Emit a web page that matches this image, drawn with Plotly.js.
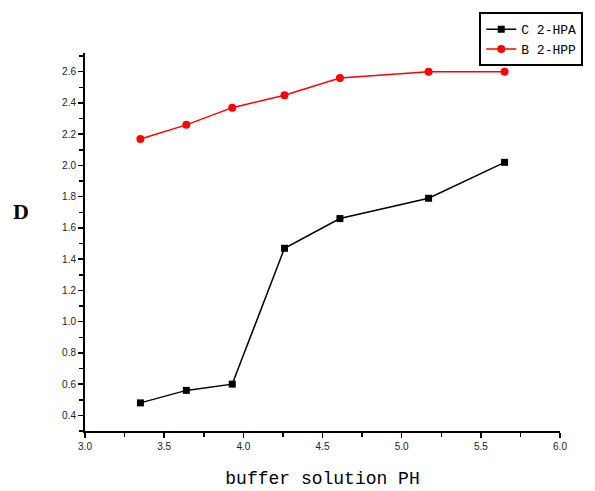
<!DOCTYPE html>
<html>
<head>
<meta charset="utf-8">
<script src="https://cdn.plot.ly/plotly-3.0.1.min.js"></script>
<style>
html,body{margin:0;padding:0;background:#fff;}
#chart{width:595px;height:491px;}
</style>
</head>
<body>
<div id="chart"></div>
<script>
const phHPA = [3.35, 3.64, 3.93, 4.26, 4.61, 5.17, 5.65];
const dHPA  = [0.48, 0.56, 0.60, 1.47, 1.66, 1.79, 2.02];
const phHPP = [3.35, 3.64, 3.93, 4.26, 4.61, 5.17, 5.65];
const dHPP  = [2.17, 2.26, 2.37, 2.45, 2.56, 2.60, 2.60];
const nameHPA = "C 2-HPA";
const nameHPP = "B 2-HPP";
const xTitle = "buffer solution PH";
const yTitle = "D";

const traces = [
  {x: phHPA, y: dHPA, name: nameHPA, type: "scatter", mode: "lines+markers",
   line: {color: "#000000", width: 1.5},
   marker: {symbol: "square", size: 7, color: "#000000"}},
  {x: phHPP, y: dHPP, name: nameHPP, type: "scatter", mode: "lines+markers",
   line: {color: "#ff0000", width: 1.5},
   marker: {symbol: "circle", size: 8, color: "#ff0000"}}
];

const axisFont = {family: "Arial, Liberation Sans, sans-serif", size: 10, color: "#222"};
const layout = {
  width: 595, height: 491,
  margin: {l: 85, r: 33, t: 53, b: 60},
  paper_bgcolor: "#ffffff", plot_bgcolor: "#ffffff",
  showlegend: true,
  legend: {x: 0.83, y: 1.108, xanchor: "left", yanchor: "top",
           bordercolor: "#000", borderwidth: 2, bgcolor: "#fff",
           font: {family: "Liberation Mono, monospace", size: 13, color: "#000"},
           tracegroupgap: 0, itemwidth: 30},
  xaxis: {range: [3.0, 6.0], dtick: 0.5, tick0: 3.0, tickformat: ".1f",
          showgrid: false, zeroline: false, showline: true, linecolor: "#000", linewidth: 2,
          ticks: "outside", ticklen: 5, tickwidth: 1.5, tickcolor: "#000",
          minor: {dtick: 0.25, ticks: "outside", ticklen: 4, tickwidth: 1.5, tickcolor: "#000", showgrid: false},
          tickfont: axisFont,
          title: {text: xTitle, standoff: 20,
                  font: {family: "Liberation Mono, monospace", size: 18, color: "#000"}}},
  yaxis: {range: [0.3, 2.72], dtick: 0.2, tick0: 0.4, tickformat: ".1f",
          showgrid: false, zeroline: false, showline: true, linecolor: "#000", linewidth: 2,
          ticks: "outside", ticklen: 5, tickwidth: 1.5, tickcolor: "#000",
          minor: {dtick: 0.1, ticks: "outside", ticklen: 4, tickwidth: 1.5, tickcolor: "#000", showgrid: false},
          tickfont: axisFont},
  annotations: [
    {text: yTitle, xref: "paper", yref: "paper", x: -0.135, y: 0.58,
     xanchor: "center", yanchor: "middle", showarrow: false,
     font: {family: "Liberation Serif, serif", size: 22, color: "#000", weight: "bold"}}
  ]
};

Plotly.newPlot("chart", traces, layout, {displayModeBar: false, staticPlot: true});
</script>
</body>
</html>
